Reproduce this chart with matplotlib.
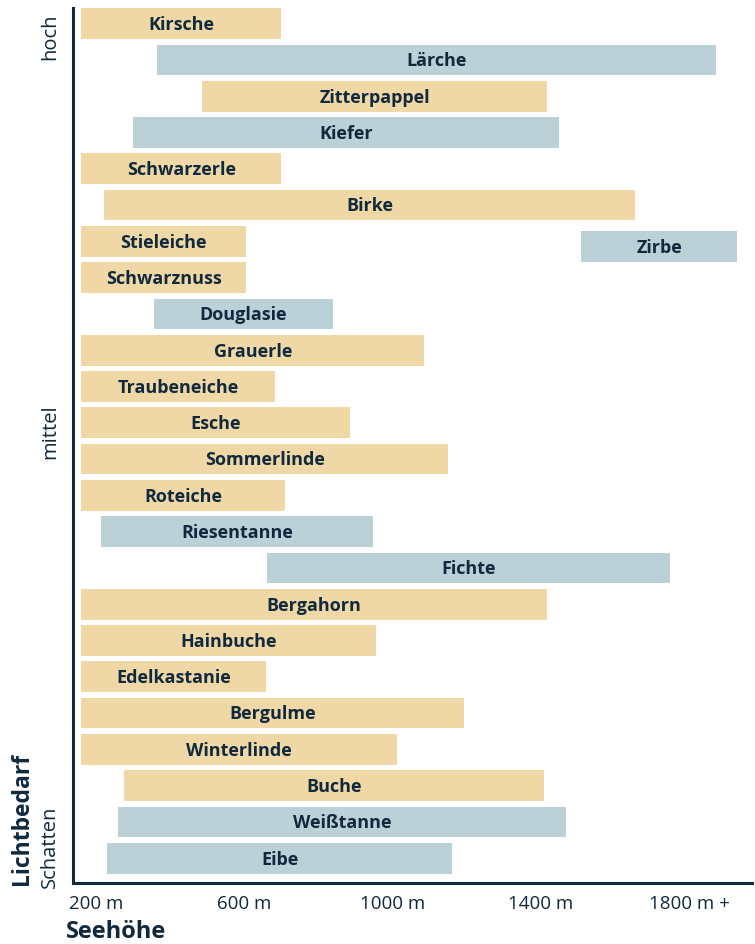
import matplotlib
matplotlib.use("Agg")
import matplotlib.pyplot as plt

plt.rcParams['font.family'] = ['Open Sans', 'DejaVu Sans']

# Data: species, altitude range (m), light-demand position (0 = top/high), type
species = ["Kirsche", "Lärche", "Zitterpappel", "Kiefer", "Schwarzerle", "Birke",
           "Stieleiche", "Zirbe", "Schwarznuss", "Douglasie", "Grauerle", "Traubeneiche",
           "Esche", "Sommerlinde", "Roteiche", "Riesentanne", "Fichte", "Bergahorn",
           "Hainbuche", "Edelkastanie", "Bergulme", "Winterlinde", "Buche", "Weißtanne", "Eibe"]
alt_min = [160, 365, 486, 300, 160, 222, 160, 1509, 160, 356, 160, 160,
           160, 160, 160, 213, 661, 160, 160, 160, 160, 160, 276, 259, 230]
alt_max = [700, 1872, 1417, 1449, 700, 1654, 605, 1930, 605, 839, 1085, 683,
           885, 1150, 710, 947, 1749, 1417, 955, 659, 1193, 1012, 1409, 1468, 1160]
light_pos = [0, 1, 2, 3, 4, 5, 6, 6.14, 7, 8, 9, 10,
             11, 12, 13, 14, 15, 16, 17, 18, 19, 20, 21, 22, 23]
is_conifer = [False, True, False, True, False, False, False, True, False, True, False, False,
              False, False, False, True, True, False, False, False, False, False, False, True, True]

tick_values = [200, 600, 1000, 1400, 1800]
tick_labels = ["200 m", "600 m", "1000 m", "1400 m", "1800 m +"]
light_labels = ["hoch", "mittel", "Schatten"]

YELLOW = "#F0D8A6"
BLUE = "#BCD0D8"
DARK = "#10293D"

fig = plt.figure(figsize=(7.55, 9.44), dpi=100)
ax = fig.add_axes([73.2/755, (944-882.5)/944, (752-73.2)/755, (882.5-8)/944])

for sp, a0, a1, y, con in zip(species, alt_min, alt_max, light_pos, is_conifer):
    ax.barh(y, a1 - a0, left=a0, height=0.845, color=BLUE if con else YELLOW, zorder=2)
    ax.text((a0 + a1) / 2, y + 0.04, sp, ha="center", va="center", fontsize=13,
            fontweight="bold", color=DARK, zorder=3)

ax.set_xlim(138, 1970)
ax.set_ylim(23.67, -0.43)

for s in ["top", "right"]:
    ax.spines[s].set_visible(False)
for s in ["left", "bottom"]:
    ax.spines[s].set_linewidth(2.2)
    ax.spines[s].set_color(DARK)

ax.set_yticks([])
ax.set_xticks(tick_values)
ax.set_xticklabels(tick_labels, fontsize=13.5, color=DARK)
ax.tick_params(axis="x", length=0, pad=9)

# y-axis category labels (rotated)
fig.text(50/755, 1 - 13/944, light_labels[0], rotation=90, ha="center", va="top",
         fontsize=14.5, color=DARK)
fig.text(50/755, 1 - 432/944, light_labels[1], rotation=90, ha="center", va="center",
         fontsize=14.5, color=DARK)
fig.text(50/755, 1 - 888/944, light_labels[2], rotation=90, ha="center", va="bottom",
         fontsize=14.5, color=DARK)
fig.text(22/755, 1 - 885/944, "Lichtbedarf", rotation=90, ha="center", va="bottom",
         fontsize=16.5, fontweight="bold", color=DARK)
fig.text(66/755, 1 - 932/944, "Seehöhe", ha="left", va="center",
         fontsize=17, fontweight="bold", color=DARK)

fig.savefig("out.png", dpi=100)
